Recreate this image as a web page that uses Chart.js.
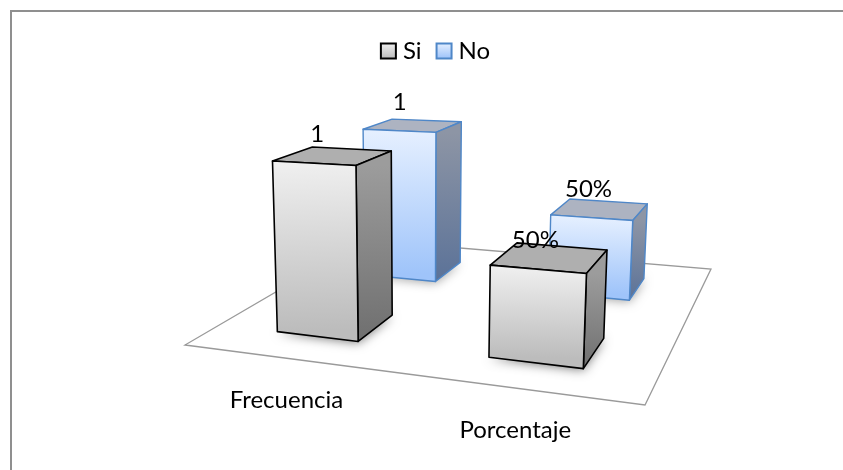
<!DOCTYPE html>
<html>
<head>
<meta charset="utf-8">
<script src="https://cdn.jsdelivr.net/npm/chart.js@4"></script>
<style>
  html, body { margin: 0; padding: 0; background: #fff; }
  canvas { display: block; }
</style>
</head>
<body>
<canvas id="chart" width="843" height="470"></canvas>
<script>
const categories = ["Frecuencia", "Porcentaje"];
const seriesNames = ["Si", "No"];
const siValues = [1, 0.5];
const noValues = [1, 0.5];
const siLabels = ["1", "50%"];
const noLabels = ["1", "50%"];

const fontName = "Lato, 'Open Sans', sans-serif";
const textSize = 24;

// floor of the 3d plot, front left / front right / back right / back left
const floor = [[185, 345], [645, 405], [711, 269], [365, 240]];
const fullHeight = 176;
const lean = 0.0002;
const leanCenter = 420;
const barPct = 0.4;

const skins = [
  {
    line: "#000000", lineWidth: 1.6, top: "#afafaf",
    front: ["#f0f0f0", "#bcbcbc"], side: ["#9c9c9c", "#6f6f6f"],
    shadow: "rgba(0,0,0,0.55)"
  },
  {
    line: "#4f87c8", lineWidth: 1.4, top: "#adb3c1",
    front: ["#e6f0ff", "#9fc4fa"], side: ["#8d95a5", "#5b7298"],
    shadow: "rgba(0,0,0,0.4)"
  }
];

// unit square to floor quad
const makeHomography = (q) => {
  const dx1 = q[1][0] - q[2][0], dx2 = q[3][0] - q[2][0];
  const sx = q[0][0] - q[1][0] + q[2][0] - q[3][0];
  const dy1 = q[1][1] - q[2][1], dy2 = q[3][1] - q[2][1];
  const sy = q[0][1] - q[1][1] + q[2][1] - q[3][1];
  const det = dx1 * dy2 - dx2 * dy1;
  const g = (sx * dy2 - dx2 * sy) / det;
  const h = (dx1 * sy - sx * dy1) / det;
  return {
    a: q[1][0] - q[0][0] + g * q[1][0], b: q[3][0] - q[0][0] + h * q[3][0], c: q[0][0],
    d: q[1][1] - q[0][1] + g * q[1][1], e: q[3][1] - q[0][1] + h * q[3][1], f: q[0][1],
    g, h
  };
};
const H = makeHomography(floor);

const project = (u, v, val) => {
  const w = H.g * u + H.h * v + 1;
  let x = (H.a * u + H.b * v + H.c) / w;
  let y = (H.d * u + H.e * v + H.f) / w;
  const px = fullHeight * val / w;
  x += (x - leanCenter) * lean * px;
  y -= px;
  return [x, y];
};

const face = (ctx, pts) => {
  ctx.beginPath();
  pts.forEach((p, i) => (i ? ctx.lineTo(p[0], p[1]) : ctx.moveTo(p[0], p[1])));
  ctx.closePath();
};

const fade = (ctx, from, to, colors) => {
  const g = ctx.createLinearGradient(from[0], from[1], to[0], to[1]);
  g.addColorStop(0, colors[0]);
  g.addColorStop(1, colors[1]);
  return g;
};

// where a bar element sits on the floor
const barBox = (chart, datasetIndex, bar) => {
  const area = chart.chartArea;
  const n = chart.data.datasets.length;
  return {
    u0: (bar.x - bar.width / 2 - area.left) / area.width,
    u1: (bar.x + bar.width / 2 - area.left) / area.width,
    v0: (datasetIndex + 0.5) / n - barPct / n / 2,
    v1: (datasetIndex + 0.5) / n + barPct / n / 2,
    val: (bar.base - bar.y) / area.height
  };
};

const drawBar = (ctx, box, skin) => {
  const { u0, u1, v0, v1, val } = box;
  const fbl = project(u0, v0, 0), fbr = project(u1, v0, 0), bbr = project(u1, v1, 0);
  const ftl = project(u0, v0, val), ftr = project(u1, v0, val);
  const btr = project(u1, v1, val), btl = project(u0, v1, val);

  ctx.save();
  ctx.shadowColor = skin.shadow;
  ctx.shadowBlur = 11;
  ctx.shadowOffsetY = 1;
  ctx.fillStyle = "#808080";
  face(ctx, [fbl, fbr, bbr]);
  ctx.fill();
  ctx.restore();

  ctx.lineJoin = "round";
  ctx.strokeStyle = skin.line;
  ctx.lineWidth = skin.lineWidth;

  ctx.fillStyle = skin.top;
  face(ctx, [ftl, ftr, btr, btl]);
  ctx.fill();
  ctx.stroke();

  ctx.fillStyle = fade(ctx, ftr, fbr, skin.side);
  face(ctx, [ftr, btr, bbr, fbr]);
  ctx.fill();
  ctx.stroke();

  ctx.fillStyle = fade(ctx, ftl, fbl, skin.front);
  face(ctx, [ftl, ftr, fbr, fbl]);
  ctx.fill();
  ctx.stroke();
};

const box3d = {
  id: "box3d",
  beforeDraw(chart) {
    const ctx = chart.ctx;
    ctx.save();
    // chart frame, only top and left show
    ctx.strokeStyle = "#8f8f8f";
    ctx.lineWidth = 2;
    ctx.beginPath();
    ctx.moveTo(11, 470);
    ctx.lineTo(11, 11);
    ctx.lineTo(843, 11);
    ctx.stroke();
    // floor
    ctx.strokeStyle = "#9a9a9a";
    ctx.lineWidth = 1.3;
    face(ctx, floor);
    ctx.stroke();
    ctx.restore();
  },
  beforeDatasetDraw(chart, args) {
    const ctx = chart.ctx;
    ctx.save();
    args.meta.data.forEach((bar) => {
      drawBar(ctx, barBox(chart, args.index, bar), skins[args.index]);
    });
    ctx.restore();
    return false;
  },
  afterDatasetsDraw(chart) {
    const ctx = chart.ctx;
    const allLabels = [siLabels, noLabels];
    ctx.save();
    ctx.fillStyle = "#000";
    ctx.font = textSize + "px " + fontName;
    ctx.textAlign = "center";
    ctx.textBaseline = "middle";
    chart.data.datasets.forEach((ds, i) => {
      chart.getDatasetMeta(i).data.forEach((bar, j) => {
        const b = barBox(chart, i, bar);
        const um = (b.u0 + b.u1) / 2;
        const base = project(um, b.v0, 0);
        const top = project(um, b.v0, b.val);
        ctx.fillText(allLabels[i][j], base[0], top[1] - 28.5);
      });
    });
    // category names under the front edge of the floor
    const xScale = chart.scales.x;
    categories.forEach((name, i) => {
      const u = (xScale.getPixelForTick(i) - chart.chartArea.left) / chart.chartArea.width;
      const p = project(u, 0, 0);
      ctx.fillText(name, p[0], p[1] + 42);
    });
    ctx.restore();
  }
};

const ctx = document.getElementById("chart").getContext("2d");

const legendFill = (colors) => {
  const g = ctx.createLinearGradient(0, 43, 0, 58);
  g.addColorStop(0, colors[0]);
  g.addColorStop(1, colors[1]);
  return g;
};

new Chart(ctx, {
  type: "bar",
  data: {
    labels: categories,
    datasets: [
      { label: seriesNames[0], data: siValues },
      { label: seriesNames[1], data: noValues }
    ]
  },
  options: {
    responsive: false,
    animation: false,
    layout: { padding: { left: 33, top: 19 } },
    datasets: { bar: { grouped: false, barPercentage: barPct, categoryPercentage: 1 } },
    scales: {
      x: { display: false },
      y: { display: false, min: 0, max: 1 }
    },
    plugins: {
      tooltip: { enabled: false },
      legend: {
        position: "top",
        labels: {
          // narrow box slot keeps the text close to the square, as in the original
          usePointStyle: true,
          boxWidth: 5,
          boxHeight: 15,
          padding: 20,
          color: "#000",
          font: { family: fontName, size: textSize },
          generateLabels: () => seriesNames.map((name, i) => ({
            text: name,
            datasetIndex: i,
            pointStyle: "rect",
            fillStyle: legendFill(skins[i].front),
            strokeStyle: skins[i].line,
            lineWidth: 2
          }))
        }
      }
    }
  },
  plugins: [box3d]
});
</script>
</body>
</html>
